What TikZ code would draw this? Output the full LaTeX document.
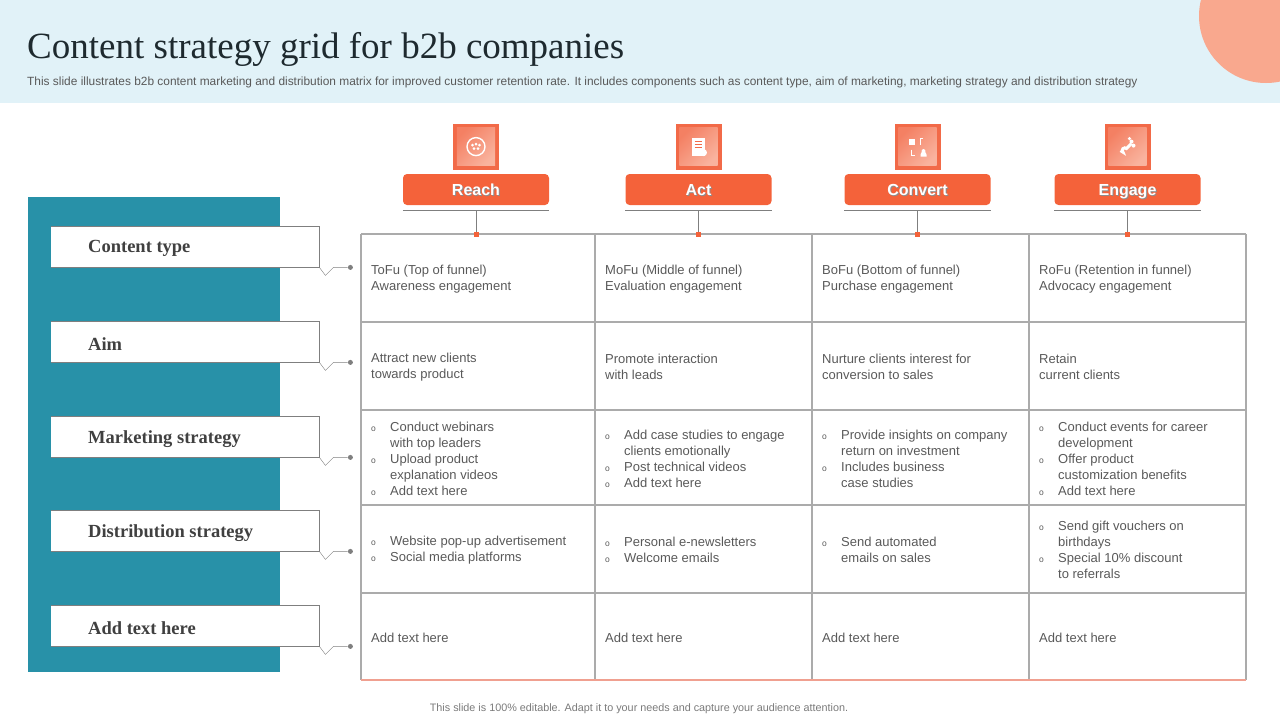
\documentclass[tikz,border=0pt]{standalone}
\usepackage{fontspec}
\setmainfont{Liberation Serif}
\setsansfont{Liberation Sans}
\usetikzlibrary{positioning}
\definecolor{bandblue}{HTML}{E1F2F8}
\definecolor{salmon}{HTML}{F9A88E}
\definecolor{panelteal}{HTML}{2891A8}
\definecolor{pillorange}{HTML}{F4623A}
\definecolor{iconorange}{HTML}{F26A48}
\definecolor{iconlight}{HTML}{F9B39E}
\definecolor{gridgray}{HTML}{ABABAB}
\definecolor{linegray}{HTML}{7F7F7F}
\definecolor{txtgray}{HTML}{595959}
\definecolor{labgray}{HTML}{404040}
\definecolor{titlecol}{HTML}{1E2A2F}
\definecolor{bottomred}{HTML}{F0A090}
\newcommand{\bul}{\makebox[19pt][l]{\fontsize{8.5}{9}\selectfont o}}
\newcommand{\ind}{\hspace*{19pt}}
\newcommand{\shtext}[1]{\makebox[0pt][l]{\hspace{1pt}\raisebox{-1pt}{\color{black!45}#1}}#1}
\begin{document}
\begin{tikzpicture}[x=1pt,y=-1pt,
    cell/.style={anchor=west,align=left,inner sep=0pt,font=\sffamily\fontsize{13}{16}\selectfont,text=txtgray},
    rowlabel/.style={fill=white,minimum width=268pt,minimum height=41pt,inner sep=0pt,anchor=north west},
    labeltext/.style={anchor=west,inner sep=0pt,font=\bfseries\fontsize{18.5}{20}\selectfont,text=labgray},
    pill/.style={fill=pillorange,rounded corners=4pt,minimum width=146pt,minimum height=31pt,inner sep=0pt,text height=11.5pt,text depth=0.5pt,text=white,font=\sffamily\bfseries\fontsize{16}{16}\selectfont},
    iconbox/.style={fill=iconorange,minimum size=46pt,inner sep=0pt},
    gridline/.style={draw=gridgray,line width=1.2pt},
    dot/.style={circle,fill=linegray,inner sep=0pt,minimum size=5pt}]
  \useasboundingbox (0,0) rectangle (1280,720);
  %header
  \fill[bandblue] (0,0) rectangle (1280,103);
  \begin{scope}
    \clip (0,0) rectangle (1280,103);
    \fill[salmon] (1266,16) circle (67pt);
  \end{scope}
  \node[anchor=base west,inner sep=0pt,font=\fontsize{37}{37}\selectfont,text=titlecol] (title) at (27,58) {Content strategy grid for b2b companies};
  \node[anchor=west,inner sep=0pt,font=\sffamily\fontsize{11.9}{13}\selectfont,text=txtgray] (subtitle) at (27,82.5) {This slide illustrates b2b content marketing and distribution matrix for improved customer retention rate. It includes components such as content type, aim of marketing, marketing strategy and distribution strategy};
  %left panel
  \fill[panelteal] (28,197) rectangle (280,672);
  \foreach \y/\txt/\nm in {226/Content type/ctype, 321/Aim/aim, 416/Marketing strategy/mkt, 510/Distribution strategy/dist, 605/Add text here/extra} {
    \node[rowlabel] (\nm) at (51,\y) {};
    \draw[linegray] (\nm.north west) -- (\nm.north east) -- (\nm.south east) -- (\nm.south west);
    \node[labeltext] (\nm-t) at ([xshift=37pt,yshift=-2pt]\nm.west) {\txt};
    \node[dot] (\nm-dot) at ([xshift=31pt]\nm.south east) {};
    \draw[linegray] (\nm.south east) -- ++(6,8) -- ++(8,-8) -- (\nm-dot);
  }
  %grid
  \foreach \x in {361,595,812,1029,1246} \draw[gridline] (\x,234) -- (\x,680);
  \foreach \y in {234,322,410,505,593} \draw[gridline] (361,\y) -- (1246,\y);
  \draw[draw=bottomred,line width=1.2pt] (361,680) -- (1246,680);
  %column heads
  \foreach \cx/\nm/\lbl in {476/reach/Reach, 698.5/act/Act, 917.5/conv/Convert, 1127.5/eng/Engage} {
    \node[pill] (\nm) at (\cx,189.5) {\shtext{\lbl}};
    \node[iconbox,above=4pt of \nm] (\nm-icon) {};
    \shade[left color=iconorange!85!white,right color=iconlight,shading angle=45] ([shift={(4pt,4pt)}]\nm-icon.south west) rectangle ([shift={(-4pt,-4pt)}]\nm-icon.north east);
    \coordinate (\nm-top) at (\cx,234);
    \draw[linegray] ([yshift=-5pt]\nm.south west) -- ([yshift=-5pt]\nm.south east);
    \draw[linegray] ([yshift=-5pt]\nm.south) -- (\nm-top);
    \fill[pillorange] ([shift={(-2.5pt,-2.5pt)}]\nm-top) rectangle ([shift={(2.5pt,2.5pt)}]\nm-top);
  }
  %icons
  \begin{scope}[shift={(reach-icon.center)},white]
    \draw[line width=1.4pt] (0,0) circle (9pt);
    \foreach \dx/\dy in {-3.5/-1.5, 0/-2.5, 3.5/-1.5, -2/2, 2/2} \fill (\dx,\dy) circle (1.5pt);
  \end{scope}
  \begin{scope}[shift={(act-icon.center)},white]
    \fill (-7,-9) rectangle (6,9);
    \foreach \ly in {-5,-2,1} \draw[iconorange,line width=0.8pt] (-4,\ly) -- (3,\ly);
    \fill (5,6) circle (3.5pt);
  \end{scope}
  \begin{scope}[shift={(conv-icon.center)},white]
    \fill (-9,-8) rectangle (-3,-2);
    \fill (6,4.5) circle (2pt);
    \fill (3,10) rectangle (9,8) arc (0:180:3pt);
    \draw[line width=0.9pt] (3,-2) -- (3,-8) -- (5,-8);
    \draw[line width=0.9pt] (-6,3) -- (-6,9) -- (-3,9);
  \end{scope}
  \begin{scope}[shift={(eng-icon.center)},white]
    \draw[line width=3pt] (4,-3) -- (-1,2) arc (45:225:2.5pt) -- (-7,4);
    \fill (4,-5) circle (2pt);
    \fill (6,-1) circle (2pt);
    \fill (2,-8) circle (1.8pt);
  \end{scope}
  %cells
  \node[cell] (c11) at (371,279) {ToFu (Top of funnel)\\Awareness engagement};
  \node[cell] (c12) at (605,279) {MoFu (Middle of funnel)\\Evaluation engagement};
  \node[cell] (c13) at (822,279) {BoFu (Bottom of funnel)\\Purchase engagement};
  \node[cell] (c14) at (1039,279) {RoFu (Retention in funnel)\\Advocacy engagement};
  \node[cell] (c21) at (371,367) {Attract new clients\\towards product};
  \node[cell] (c22) at (605,367) {Promote interaction\\with leads};
  \node[cell] (c23) at (822,367) {Nurture clients interest for\\conversion to sales};
  \node[cell] (c24) at (1039,367) {Retain\\current clients};
  \node[cell] (c31) at (371,458.5) {\bul Conduct webinars\\\ind with top leaders\\\bul Upload product\\\ind explanation videos\\\bul Add text here};
  \node[cell] (c32) at (605,458.5) {\bul Add case studies to engage\\\ind clients emotionally\\\bul Post technical videos\\\bul Add text here};
  \node[cell] (c33) at (822,458.5) {\bul Provide insights on company\\\ind return on investment\\\bul Includes business\\\ind case studies};
  \node[cell] (c34) at (1039,458.5) {\bul Conduct events for career\\\ind development\\\bul Offer product\\\ind customization benefits\\\bul Add text here};
  \node[cell] (c41) at (371,550) {\bul Website pop-up advertisement\\\bul Social media platforms};
  \node[cell] (c42) at (605,550) {\bul Personal e-newsletters\\\bul Welcome emails};
  \node[cell] (c43) at (822,550) {\bul Send automated\\\ind emails on sales};
  \node[cell] (c44) at (1039,550) {\bul Send gift vouchers on\\\ind birthdays\\\bul Special 10\% discount\\\ind to referrals};
  \node[cell] (c51) at (371,637.5) {Add text here};
  \node[cell] (c52) at (605,637.5) {Add text here};
  \node[cell] (c53) at (822,637.5) {Add text here};
  \node[cell] (c54) at (1039,637.5) {Add text here};
  %footer
  \node[inner sep=0pt,font=\sffamily\fontsize{10.8}{12}\selectfont,text=txtgray!80] (footer) at (639,709) {This slide is 100\% editable. Adapt it to your needs and capture your audience attention.};
\end{tikzpicture}
\end{document}
